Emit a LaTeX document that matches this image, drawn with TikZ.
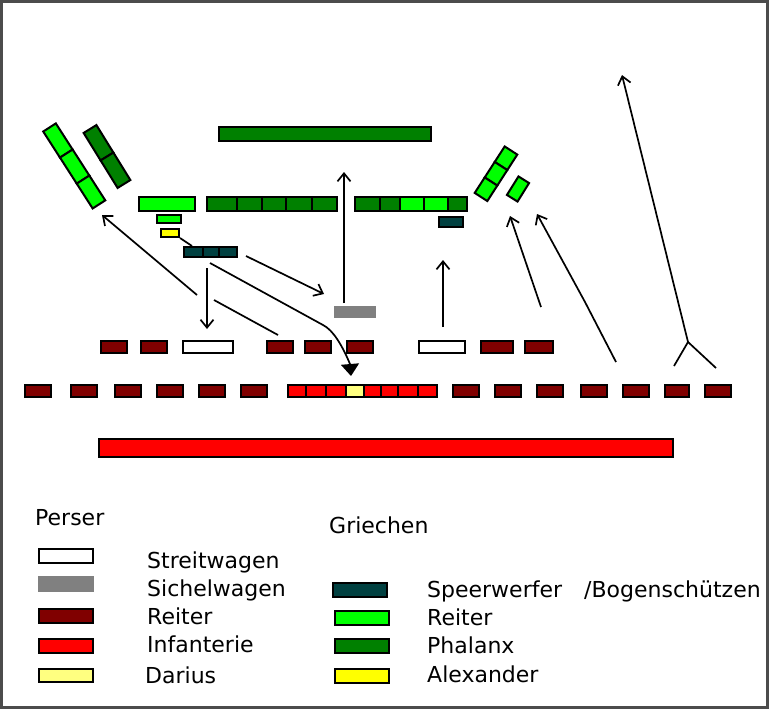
\documentclass[tikz,border=0pt]{standalone}
\usepackage{fontspec}
\setmainfont{DejaVu Sans}
\usetikzlibrary{arrows.meta}
\definecolor{phal}{HTML}{008000}
\definecolor{cavg}{HTML}{00FF00}
\definecolor{cavp}{HTML}{800000}
\definecolor{infp}{HTML}{FF0000}
\definecolor{dar}{HTML}{FFFF80}
\definecolor{alx}{HTML}{FFFF00}
\definecolor{spr}{HTML}{004040}
\definecolor{sich}{HTML}{808080}
\tikzset{
  unitbox/.style={draw=black,line width=2pt,inner sep=0pt,outer sep=0pt},
  plainbox/.style={inner sep=0pt,outer sep=0pt},
  mv/.style={draw=black,line width=1.7pt,-{Straight Barb[length=8pt,width=13pt,line width=1.7pt]}},
  mvf/.style={draw=black,line width=1.7pt,-{Triangle[length=12pt,width=18pt]}},
  mvn/.style={draw=black,line width=1.7pt},
  lab/.style={anchor=base west,inner sep=0pt,font=\fontsize{22}{24}\selectfont}
}
\newcommand{\bx}[6]{%
  \pgfmathsetmacro{\cxx}{(#3+#5)/2}\pgfmathsetmacro{\cyy}{(#4+#6)/2}%
  \pgfmathsetmacro{\www}{#5-#3-2}\pgfmathsetmacro{\hhh}{#6-#4-2}%
  \node[unitbox,fill=#2,minimum width=\www pt,minimum height=\hhh pt] (#1) at (\cxx,\cyy) {};}
\newcommand{\rbx}[7]{%
  \node[unitbox,fill=#2,rotate=#7,minimum width=#5 pt,minimum height=#6 pt] (#1) at (#3,#4) {};}
\begin{document}
\begin{tikzpicture}[x=1pt,y=-1pt]
\useasboundingbox (0,0) rectangle (770,710);
\draw[line width=3pt,color=black!70] (1.5,1.5) rectangle (767.5,707.5);
% phalanx top
\bx{top}{phal}{218}{126}{432}{142}
% left wings
\rbx{lca}{cavg}{57.9}{140.5}{31}{15}{-57.3}
\rbx{lcb}{cavg}{74.7}{166.6}{31}{15}{-57.3}
\rbx{lcc}{cavg}{91}{192}{29.5}{15}{-57.3}
\rbx{lpa}{phal}{98.5}{142.75}{32.3}{15}{-58.3}
\rbx{lpb}{phal}{115.5}{170.25}{32.3}{15}{-58.3}
% right wings
\rbx{rca}{cavg}{506}{158.25}{18.4}{15}{57.2}
\rbx{rcb}{cavg}{496}{173.75}{18.4}{15}{57.2}
\rbx{rcc}{cavg}{486}{189.25}{18.4}{15}{57.2}
\rbx{rcd}{cavg}{518}{189}{21.8}{12.5}{58}
% Greek line
\bx{gc}{cavg}{138}{196}{196}{212}
\bx{gcs}{cavg}{156}{214}{182}{224}
\bx{alex}{alx}{160}{228}{180}{238}
\bx{sa}{spr}{183}{246}{204}{258}
\bx{sb}{spr}{202}{246}{220}{258}
\bx{sc}{spr}{218}{246}{238}{258}
\bx{pa}{phal}{206}{196}{238}{212}
\bx{pb}{phal}{236}{196}{263}{212}
\bx{pc}{phal}{261}{196}{287}{212}
\bx{pd}{phal}{285}{196}{313}{212}
\bx{pe}{phal}{311}{196}{338}{212}
\bx{qa}{phal}{354}{196}{381}{212}
\bx{qb}{phal}{379}{196}{401}{212}
\bx{qc}{cavg}{399}{196}{425}{212}
\bx{qd}{cavg}{423}{196}{449}{212}
\bx{qe}{phal}{447}{196}{468}{212}
\bx{srr}{spr}{438}{216}{464}{228}
\node[plainbox,fill=sich,minimum width=42pt,minimum height=12pt] (sw) at (355,311.5) {};
% Persian row 1
\bx{ra}{cavp}{100}{340}{128}{354}
\bx{rb}{cavp}{140}{340}{168}{354}
\bx{wa}{white}{182}{340}{234}{354}
\bx{rc}{cavp}{266}{340}{294}{354}
\bx{rd}{cavp}{304}{340}{332}{354}
\bx{re}{cavp}{346}{340}{374}{354}
\bx{wb}{white}{418}{340}{466}{354}
\bx{rf}{cavp}{480}{340}{514}{354}
\bx{rg}{cavp}{524}{340}{554}{354}
% Persian row 2
\bx{ta}{cavp}{24}{384}{52}{398}
\bx{tb}{cavp}{70}{384}{98}{398}
\bx{tc}{cavp}{114}{384}{142}{398}
\bx{td}{cavp}{156}{384}{184}{398}
\bx{te}{cavp}{198}{384}{226}{398}
\bx{tf}{cavp}{240}{384}{268}{398}
\bx{ia}{infp}{287}{384}{307}{398}
\bx{ib}{infp}{305}{384}{327}{398}
\bx{ic}{infp}{325}{384}{347}{398}
\bx{id}{infp}{363}{384}{382}{398}
\bx{ie}{infp}{380}{384}{399}{398}
\bx{if}{infp}{397}{384}{419}{398}
\bx{ig}{infp}{417}{384}{438}{398}
\bx{darius}{dar}{345}{384}{365}{398}
\bx{tg}{cavp}{452}{384}{480}{398}
\bx{th}{cavp}{494}{384}{522}{398}
\bx{ti}{cavp}{536}{384}{564}{398}
\bx{tj}{cavp}{580}{384}{608}{398}
\bx{tk}{cavp}{622}{384}{650}{398}
\bx{tl}{cavp}{664}{384}{690}{398}
\bx{tm}{cavp}{704}{384}{732}{398}
\bx{inf}{infp}{98}{438}{674}{458}
% movement points
\coordinate (a1s) at (688,342); \coordinate (a1e) at (622,75);
\coordinate (f1) at (674,366); \coordinate (f2) at (716,368);
\coordinate (a2s) at (616,362); \coordinate (a2m) at (585,302); \coordinate (a2e) at (537,214);
\coordinate (a3s) at (541,307); \coordinate (a3e) at (510,216);
\coordinate (a4s) at (443,327); \coordinate (a4e) at (443,260);
\coordinate (a5s) at (344,303); \coordinate (a5e) at (344,172);
\coordinate (a6s) at (246,256); \coordinate (a6e) at (324,294);
\coordinate (a7s) at (207,268); \coordinate (a7e) at (207,329);
\coordinate (a8s) at (210,263); \coordinate (a8a) at (323,325); \coordinate (a8b) at (333,330); \coordinate (a8c) at (342,345); \coordinate (a8d) at (350,364); \coordinate (a8e) at (351,376);
\coordinate (a9s) at (278,335); \coordinate (a9e) at (214,300);
\coordinate (a10s) at (197,295); \coordinate (a10e) at (102,215);
\coordinate (a11s) at (180,238); \coordinate (a11e) at (192,246);
\draw[mv] (a1s) -- (a1e);
\draw[mvn] (f1) -- (a1s) -- (f2);
\draw[mv] (a2s) -- (a2m) -- (a2e);
\draw[mv] (a3s) -- (a3e);
\draw[mv] (a4s) -- (a4e);
\draw[mv] (a5s) -- (a5e);
\draw[mv] (a6s) -- (a6e);
\draw[mv] (a7s) -- (a7e);
\draw[mvf] (a8s) -- (a8a) .. controls (a8b) and (a8c) .. (a8d) -- (a8e);
\draw[mvn] (a9s) -- (a9e);
\draw[mv] (a10s) -- (a10e);
\draw[mvn] (a11s) -- (a11e);
% legend
\bx{lw}{white}{38}{548}{94}{564}
\node[plainbox,fill=sich,minimum width=56pt,minimum height=16pt] (ls) at (66,584) {};
\bx{lr}{cavp}{38}{608}{94}{624}
\bx{li}{infp}{38}{638}{94}{654}
\bx{ld}{dar}{38}{668}{94}{683}
\bx{gs}{spr}{332}{582}{388}{598}
\bx{gr}{cavg}{334}{610}{390}{626}
\bx{gp}{phal}{334}{638}{390}{654}
\bx{ga}{alx}{334}{668}{390}{684}
\node[lab] (tper) at (35,525) {Perser};
\node[lab] (tgri) at (329,533) {Griechen};
\node[lab] (t1) at (147,568) {Streitwagen};
\node[lab] (t2) at (147,596) {Sichelwagen};
\node[lab] (t3) at (147,624) {Reiter};
\node[lab] (t4) at (147,652) {Infanterie};
\node[lab] (t5) at (145,683) {Darius};
\node[lab] (t6) at (427,597) {Speerwerfer};
\node[lab] (t7) at (584,597) {/Bogenschützen};
\node[lab] (t8) at (427,625) {Reiter};
\node[lab] (t9) at (427,653) {Phalanx};
\node[lab] (t10) at (427,682) {Alexander};
\end{tikzpicture}
\end{document}
